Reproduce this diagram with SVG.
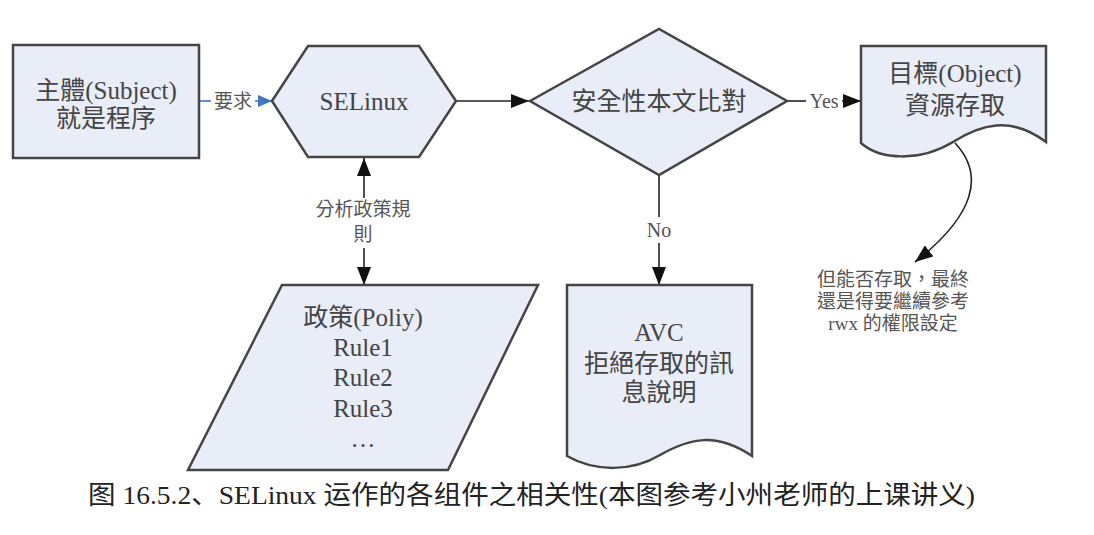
<svg xmlns="http://www.w3.org/2000/svg" width="1094" height="535" viewBox="0 0 1094 535">
<style>
.node{fill:#E9EDF7;stroke:#454545;stroke-width:2.5;stroke-linejoin:miter}
.t{font-family:"Liberation Serif","Noto Sans CJK TC",serif;font-size:25px;fill:#444;text-anchor:middle}
.s{font-family:"Liberation Serif","Noto Sans CJK TC",serif;font-size:19px;fill:#555;text-anchor:middle}
.cap{font-family:"Liberation Serif","Noto Sans CJK SC",serif;font-size:26px;fill:#222}
.c{fill:none;stroke:#222;stroke-width:1.6}
.cb{fill:none;stroke:#4472C4;stroke-width:1.6}
</style>
<defs>
<marker id="ah" markerUnits="userSpaceOnUse" markerWidth="18" markerHeight="14" refX="18" refY="7" orient="auto">
<path d="M0,0 L18,7 L0,14 Z" fill="#111"/>
</marker>
<marker id="ahb" markerUnits="userSpaceOnUse" markerWidth="14" markerHeight="12" refX="14" refY="6" orient="auto">
<path d="M0,0 L14,6 L0,12 Z" fill="#4472C4"/>
</marker>
</defs>
<rect width="1094" height="535" fill="#fff"/>

<g id="connectors">
<line class="cb" x1="199" y1="101" x2="211" y2="101"/>
<line class="cb" x1="255" y1="101" x2="272" y2="101" marker-end="url(#ahb)"/>
<text class="s" x="233" y="108">要求</text>
<line class="c" x1="456" y1="101" x2="529" y2="101" marker-end="url(#ah)"/>
<line class="c" x1="787" y1="101" x2="806" y2="101"/>
<line class="c" x1="842" y1="101" x2="861" y2="101" marker-end="url(#ah)"/>
<text class="s" x="824" y="108" style="font-size:20px">Yes</text>
<line class="c" x1="659" y1="175" x2="659" y2="217"/>
<line class="c" x1="659" y1="243" x2="659" y2="285" marker-end="url(#ah)"/>
<text class="s" x="659" y="237" style="font-size:20px">No</text>
<line class="c" x1="364" y1="198" x2="364" y2="158" marker-end="url(#ah)"/>
<line class="c" x1="364" y1="248" x2="364" y2="285" marker-end="url(#ah)"/>
<text class="s" x="363" y="216">分析政策規</text>
<text class="s" x="363" y="241">則</text>
<path class="c" d="M955,143 C985,175 975,215 915,262" marker-end="url(#ah)"/>
</g>

<g id="subject">
<rect class="node" x="13" y="45" width="186" height="113"/>
<text class="t" x="106" y="99">主體(Subject)</text>
<text class="t" x="106" y="127">就是程序</text>
</g>

<g id="selinux">
<polygon class="node" points="272,101 308,46 419,46 456,101 419,157 308,157"/>
<text class="t" x="364" y="110">SELinux</text>
</g>

<g id="compare">
<polygon class="node" points="530,101 659,29 787,101 659,175"/>
<text class="t" x="659" y="110">安全性本文比對</text>
</g>

<g id="object">
<path class="node" d="M861,46 H1046 V142 C1010,115 980,125 953,142 C920,162 880,160 861,143 Z"/>
<text class="t" x="955" y="82">目標(Object)</text>
<text class="t" x="955" y="114">資源存取</text>
</g>

<g id="avc">
<path class="node" d="M567,285 H752 V456 C716,432 690,438 660,455 C632,472 595,472 567,456 Z"/>
<text class="t" x="659" y="341">AVC</text>
<text class="t" x="659" y="372">拒絕存取的訊</text>
<text class="t" x="659" y="401">息說明</text>
</g>

<g id="policy">
<polygon class="node" points="282,285 538,285 448,470 188,470"/>
<text class="t" x="363" y="326">政策(Poliy)</text>
<text class="t" x="363" y="356">Rule1</text>
<text class="t" x="363" y="386">Rule2</text>
<text class="t" x="363" y="417">Rule3</text>
<text class="t" x="363" y="447">…</text>
</g>

<g id="note">
<text class="s" x="893" y="286">但能否存取，最終</text>
<text class="s" x="893" y="308">還是得要繼續參考</text>
<text class="s" x="893" y="330">rwx 的權限設定</text>
</g>

<text class="cap" x="88" y="504" textLength="887" lengthAdjust="spacingAndGlyphs">图 16.5.2、SELinux  运作的各组件之相关性(本图参考小州老师的上课讲义)</text>
</svg>
